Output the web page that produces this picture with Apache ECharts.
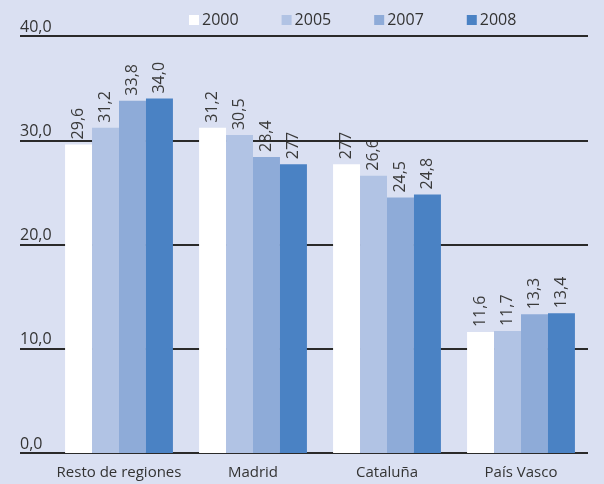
<!DOCTYPE html>
<html><head><meta charset="utf-8">
<script src="https://cdn.jsdelivr.net/npm/echarts@6/dist/echarts.min.js"></script>
<style>html,body{margin:0;padding:0;background:#dae0f2;}#c{width:604px;height:484px;}</style>
</head><body><div id="c"></div>
<script>
var categories = ['Resto de regiones', 'Madrid', 'Cataluña', 'País Vasco'];
var years = ['2000', '2005', '2007', '2008'];
var v2000 = [29.6, 31.2, 27.7, 11.6];
var v2005 = [31.2, 30.5, 26.6, 11.7];
var v2007 = [33.8, 28.4, 24.5, 13.3];
var v2008 = [34.0, 27.7, 24.8, 13.4];
var labels2000 = ['29,6', '31,2', '277', '11,6'];
var labels2005 = ['31,2', '30,5', '26,6', '11,7'];
var labels2007 = ['33,8', '28,4', '24,5', '13,3'];
var labels2008 = ['34,0', '277', '24,8', '13,4'];
var yTicks = ['0,0', '10,0', '20,0', '30,0', '40,0'];

var colors = ['#ffffff', '#b1c3e4', '#8eabd8', '#4a82c4'];
var values = [v2000, v2005, v2007, v2008];
var labs = [labels2000, labels2005, labels2007, labels2008];
var FONT = '"Open Sans", "Noto Sans", sans-serif';

var series = [];
years.forEach(function (y, i) {
  // visible bars (above grid lines)
  series.push({
    name: y, type: 'bar', xAxisIndex: 1, yAxisIndex: 1,
    data: values[i], barGap: '0%', barCategoryGap: '19.5%',
    itemStyle: { color: colors[i] }, z: 5,
    label: { show: false }
  });
  // label-only bars (below grid lines), same layout in an identical grid
  series.push({
    name: y + '_lbl', type: 'bar', xAxisIndex: 2, yAxisIndex: 2,
    data: values[i], barGap: '0%', barCategoryGap: '19.5%',
    itemStyle: { color: 'rgba(0,0,0,0)' }, z: 1, silent: true,
    label: {
      show: true, position: 'top', rotate: 90, align: 'left', verticalAlign: 'middle',
      distance: 5, fontSize: 16, color: '#3a3a3a', fontFamily: FONT,
      formatter: function (p) { return labs[i][p.dataIndex]; }
    }
  });
});

var chart = echarts.init(document.getElementById('c'));
chart.setOption({
  backgroundColor: '#dae0f2',
  animation: false,
  legend: {
    top: 7, left: 184, itemWidth: 10, itemHeight: 10, itemGap: 43,
    icon: 'rect',
    textStyle: { fontSize: 16, color: '#333', fontFamily: FONT, padding: [0, 0, 0, -2] },
    data: years
  },
  grid: [
    { left: 20, right: 16, top: 36, bottom: 31 },
    { left: 52, right: 16, top: 36, bottom: 31 },
    { left: 52, right: 16, top: 36, bottom: 31 }
  ],
  xAxis: [
    { type: 'category', gridIndex: 0, show: false, data: categories },
    {
      type: 'category', gridIndex: 1, data: categories,
      axisLine: { show: false }, axisTick: { show: false },
      axisLabel: { interval: 0, fontSize: 15, color: '#333', fontFamily: FONT, margin: 12 }
    },
    { type: 'category', gridIndex: 2, show: false, data: categories }
  ],
  yAxis: [
    {
      type: 'value', gridIndex: 0, min: 0, max: 40, interval: 10,
      axisLine: { show: false }, axisTick: { show: false },
      splitLine: { show: true, lineStyle: { color: '#2a2a2a', width: 2 } },
      axisLabel: {
        inside: true, align: 'left', verticalAlign: 'bottom', margin: 0,
        fontSize: 16, color: '#333', fontFamily: FONT, padding: [0, 0, 1, 0],
        formatter: function (v) { return yTicks[Math.round(v / 10)]; }
      },
      z: 3
    },
    { type: 'value', gridIndex: 1, min: 0, max: 40, interval: 10, show: false, splitLine: { show: false } },
    { type: 'value', gridIndex: 2, min: 0, max: 40, interval: 10, show: false, splitLine: { show: false } }
  ],
  series: series
});
</script></body></html>
